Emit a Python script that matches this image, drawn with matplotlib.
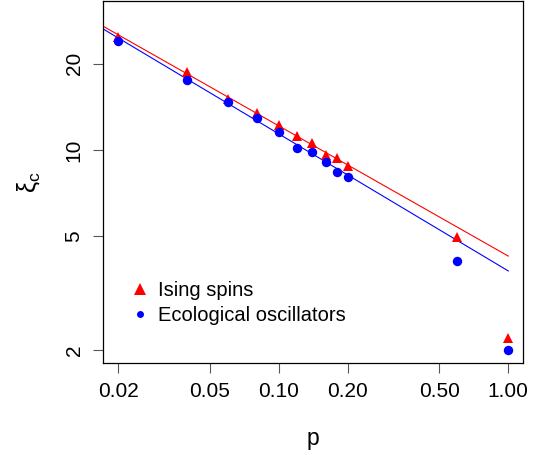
import numpy as np
import matplotlib
matplotlib.use("Agg")
import matplotlib.pyplot as plt
from matplotlib.lines import Line2D

plt.rcParams['font.family'] = ['Liberation Sans', 'DejaVu Sans']
plt.rcParams['mathtext.fontset'] = 'custom'
plt.rcParams['mathtext.rm'] = 'Liberation Sans'
plt.rcParams['mathtext.it'] = 'Liberation Sans'

# data
p = [0.02, 0.04, 0.06, 0.08, 0.10, 0.12, 0.14, 0.16, 0.18, 0.20, 0.60, 1.00]
xi_ising = [24.8, 18.7, 15.1, 13.45, 12.2, 11.15, 10.6, 9.6, 9.4, 8.8, 4.95, 2.2]
xi_eco = [24.0, 17.6, 14.7, 12.9, 11.6, 10.15, 9.85, 9.05, 8.4, 8.05, 4.1, 2.0]

# fitted power laws xi = a * p^b
fit_ising = (4.26, -0.455)
fit_eco = (3.78, -0.479)

xticks = [0.02, 0.05, 0.10, 0.20, 0.50, 1.00]
xticklabels = ["0.02", "0.05", "0.10", "0.20", "0.50", "1.00"]
yticks = [2, 5, 10, 20]
yticklabels = ["2", "5", "10", "20"]

W, H = 546, 455
fig = plt.figure(figsize=(W / 100, H / 100), dpi=100)
ax = fig.add_axes([103.3 / W, 1 - 363.3 / H, 420 / W, 362.8 / H])
ax.set_xscale('log')
ax.set_yscale('log')
xlim = (0.0172, 1.1625)
ax.set_xlim(*xlim)
ax.set_ylim(1.798, 33.3)

pl = np.logspace(np.log10(xlim[0]), 0, 100)
ax.plot(pl, fit_ising[0] * pl ** fit_ising[1], color='#FF0000', lw=0.8, zorder=2)
ax.plot(pl, fit_eco[0] * pl ** fit_eco[1], color='#0000FF', lw=0.8, zorder=2)

ax.plot(p, xi_ising, '^', color='#FF0000', ms=7.5, mew=0, zorder=3)
ax.plot(p, xi_eco, 'o', color='#0000FF', ms=6.8, mew=0, zorder=3)

ax.minorticks_off()
ax.set_xticks(xticks)
ax.set_xticklabels(xticklabels)
ax.set_yticks(yticks)
ax.set_yticklabels(yticklabels, rotation=90, va='center')
ax.tick_params(axis='both', length=7.2, width=0.8, color='#555555', labelsize=15, pad=6)
ax.tick_params(axis='y', pad=7)
for s in ax.spines.values():
    s.set_linewidth(0.9)
    s.set_color('black')

ax.set_xlabel('p', fontsize=16.5, labelpad=19)
ax.set_ylabel(r'$\xi_{\mathrm{c}}$', fontsize=18, labelpad=16)

handles = [
    Line2D([], [], ls='none', marker='^', color='#FF0000', ms=8, mew=0),
    Line2D([], [], ls='none', marker='o', color='#0000FF', ms=5, mew=0),
]
ax.legend(handles, ['Ising spins', 'Ecological oscillators'], frameon=False,
          loc='upper left', bbox_to_anchor=(129.6 / W, 1 - 281 / H),
          bbox_transform=fig.transFigure, fontsize=14.5, handlelength=1.05,
          handletextpad=0.35, borderpad=0, borderaxespad=0, labelspacing=0.3)

fig.savefig('out.png', dpi=100)
